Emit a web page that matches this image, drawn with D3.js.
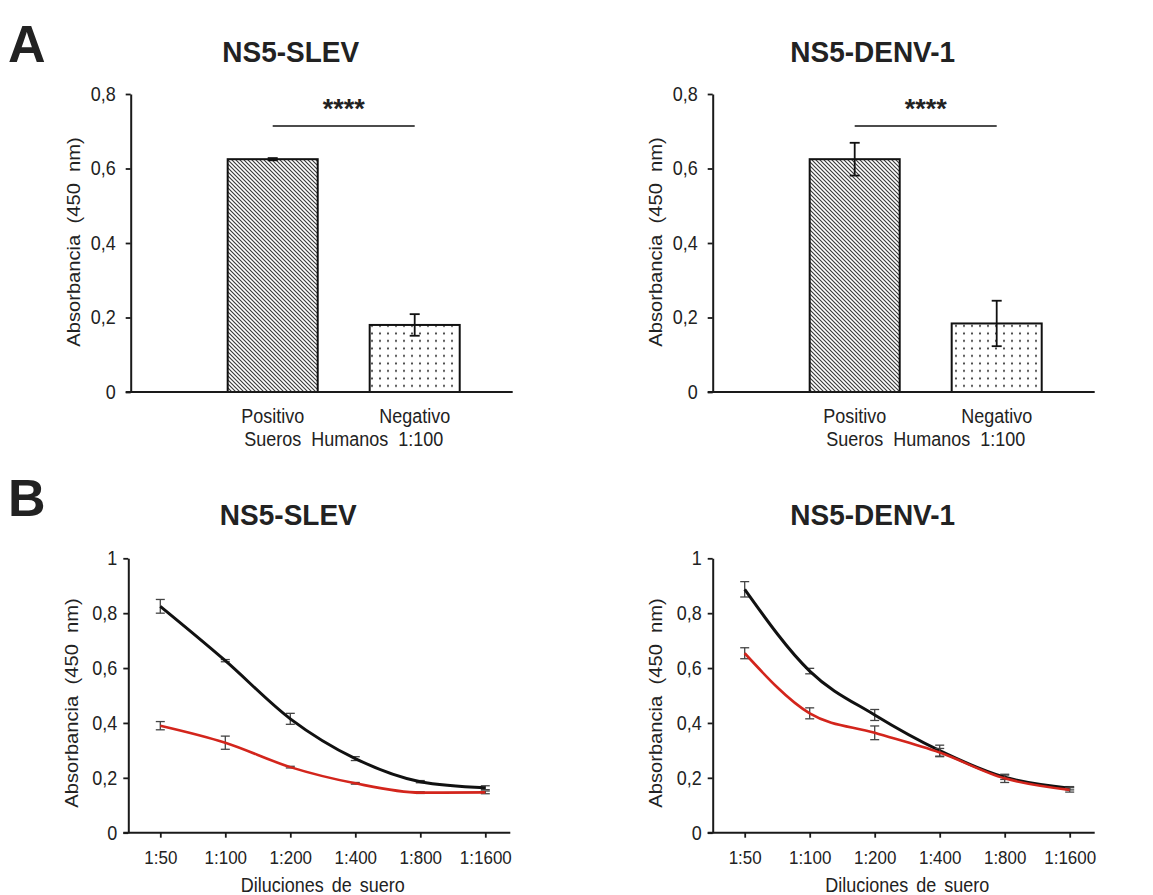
<!DOCTYPE html>
<html>
<head>
<meta charset="utf-8">
<script src="https://cdn.jsdelivr.net/npm/d3@7"></script>
<style>
  body { margin: 0; background: #fff; }
  svg { display: block; font-family: Arial, "Liberation Sans", sans-serif; }
</style>
</head>
<body>
<svg id="chart" width="1153" height="895"></svg>
<script>
// ---- data ----
const barCategories = ["Positivo", "Negativo"];
const slevBarMeans = [0.625, 0.18];
const slevBarErrors = [0.003, 0.029];
const denvBarMeans = [0.625, 0.184];
const denvBarErrors = [0.044, 0.061];
const barTicks = [0, 0.2, 0.4, 0.6, 0.8];
const sigLevel = 0.714;      // height of the significance bracket
const sigStars = "****";

const dilutions = ["1:50", "1:100", "1:200", "1:400", "1:800", "1:1600"];
const lineTicks = [0, 0.2, 0.4, 0.6, 0.8, 1];
const slevPositive = [0.825, 0.627, 0.415, 0.27, 0.186, 0.164];
const slevPositiveErr = [0.025, 0.004, 0.02, 0.007, 0.004, 0.007];
const slevNegative = [0.39, 0.328, 0.239, 0.18, 0.146, 0.147];
const slevNegativeErr = [0.015, 0.024, 0.003, 0.003, 0.003, 0.005];
const denvPositive = [0.887, 0.589, 0.429, 0.299, 0.202, 0.162];
const denvPositiveErr = [0.028, 0.01, 0.02, 0.02, 0.008, 0.006];
const denvNegative = [0.654, 0.435, 0.364, 0.292, 0.198, 0.156];
const denvNegativeErr = [0.02, 0.02, 0.025, 0.015, 0.015, 0.008];

const svg = d3.select("#chart");
const ink = "#1a1a1a";
const textColor = "#222";
const stretch = 1.12;   // the figure text is slightly taller than wide
const fmt = d => String(d).replace(".", ",");

// patterns for the bars
const defs = svg.append("defs");
const hatch = defs.append("pattern").attr("id", "hatch")
    .attr("patternUnits", "userSpaceOnUse").attr("width", 4).attr("height", 4);
hatch.append("rect").attr("width", 4).attr("height", 4).attr("fill", "#fff");
hatch.append("path").attr("d", "M0,0 L4,4 M3,-1 L5,1 M-1,3 L1,5")
    .attr("stroke", "#3a3a3a").attr("stroke-width", 1.15);
const dots = defs.append("pattern").attr("id", "dots")
    .attr("patternUnits", "userSpaceOnUse").attr("width", 8).attr("height", 7.5);
dots.append("rect").attr("width", 8).attr("height", 7.5).attr("fill", "#fff");
dots.append("circle").attr("cx", 4).attr("cy", 3.5).attr("r", 1.05).attr("fill", "#333");

function label(g, x, y, txt, opts = {}) {
    return g.append("text")
        .attr("transform", `translate(${x},${y}) scale(1,${opts.sy || stretch})`)
        .attr("text-anchor", opts.anchor || "middle")
        .attr("font-size", opts.size || 18)
        .attr("font-weight", opts.weight || "normal")
        .attr("word-spacing", opts.ws || 0)
        .attr("fill", textColor)
        .text(txt);
}

function yTitle(g, x, y, txt) {
    g.append("text")
        .attr("transform", `translate(${x},${y}) rotate(-90) scale(${stretch},1)`)
        .attr("text-anchor", "middle")
        .attr("dy", "0.35em")
        .attr("font-size", 18)
        .attr("word-spacing", 5)
        .attr("fill", textColor)
        .text(txt);
}

function styleAxis(sel, size) {
    sel.attr("font-family", null).attr("font-size", null);
    sel.selectAll(".domain").attr("stroke", ink).attr("stroke-width", 2);
    sel.selectAll(".tick line").attr("stroke", ink).attr("stroke-width", 1.8);
    sel.selectAll(".tick text").attr("fill", textColor).attr("font-size", size || 18);
}

// ---- panel A: bar charts ----
function barPanel(x0, title, means, errs) {
    const g = svg.append("g");
    const w = 382;
    const y = d3.scaleLinear().domain([0, 0.8]).range([392, 94]);
    const x = d3.scaleBand().domain(barCategories)
        .range([x0 + 71, x0 + 355]).paddingInner(0.366).paddingOuter(0.183);
    const data = barCategories.map((c, i) => ({c, m: means[i], e: errs[i]}));

    g.selectAll("rect.bar").data(data).join("rect").attr("class", "bar")
        .attr("x", d => x(d.c)).attr("width", x.bandwidth())
        .attr("y", d => y(d.m)).attr("height", d => y(0) - y(d.m))
        .attr("fill", (d, i) => i === 0 ? "url(#hatch)" : "url(#dots)")
        .attr("stroke", "#111").attr("stroke-width", 2);

    // error bars
    const eb = g.selectAll("g.err").data(data).join("g").attr("class", "err")
        .attr("stroke", "#111").attr("stroke-width", 1.8);
    eb.append("line")
        .attr("x1", d => x(d.c) + x.bandwidth() / 2).attr("x2", d => x(d.c) + x.bandwidth() / 2)
        .attr("y1", d => y(d.m + d.e)).attr("y2", d => y(d.m - d.e));
    [1, -1].forEach(s => eb.append("line")
        .attr("x1", d => x(d.c) + x.bandwidth() / 2 - 5).attr("x2", d => x(d.c) + x.bandwidth() / 2 + 5)
        .attr("y1", d => y(d.m + s * d.e)).attr("y2", d => y(d.m + s * d.e)));

    // axes
    g.append("g").attr("transform", `translate(${x0},0)`)
        .call(d3.axisLeft(y).tickValues(barTicks).tickFormat(fmt)
            .tickSize(5).tickSizeOuter(0).tickPadding(10))
        .call(styleAxis)
        .selectAll(".tick text").attr("transform", `scale(1,${stretch})`);
    g.append("line").attr("x1", x0 - 5).attr("x2", x0 + w)
        .attr("y1", y(0)).attr("y2", y(0))
        .attr("stroke", ink).attr("stroke-width", 2);
    const xa = g.append("g").attr("transform", `translate(0,${y(0)})`)
        .call(d3.axisBottom(x).tickSize(0).tickPadding(15))
        .call(styleAxis);
    xa.select(".domain").remove();
    xa.selectAll(".tick text").attr("transform", `scale(1,${stretch})`);

    // significance bracket
    const c1 = x(barCategories[0]) + x.bandwidth() / 2;
    const c2 = x(barCategories[1]) + x.bandwidth() / 2;
    g.append("line").attr("x1", c1).attr("x2", c2)
        .attr("y1", y(sigLevel)).attr("y2", y(sigLevel))
        .attr("stroke", "#111").attr("stroke-width", 1.4);
    label(g, (c1 + c2) / 2, y(sigLevel) - 8, sigStars, {size: 27, weight: "bold", sy: 1});

    label(g, (c1 + c2) / 2, 446, "Sueros Humanos 1:100", {ws: 5});
    yTitle(g, x0 - 57, 242, "Absorbancia (450 nm)");
    label(g, x0 + 160, 62, title, {size: 28, weight: "bold", sy: 1.08});
}

// ---- panel B: dilution curves ----
function linePanel(x0, title, series) {
    const g = svg.append("g");
    const w = 382;
    const y = d3.scaleLinear().domain([0, 1]).range([832.7, 558.3]);
    const x = d3.scalePoint().domain(dilutions).range([x0 + 32, x0 + 357]);
    const line = d3.line().x((d, i) => x(dilutions[i])).y(d => y(d)).curve(d3.curveMonotoneX);

    series.forEach(s => {
        const pts = dilutions.map((k, i) => ({k, m: s.values[i], e: s.errors[i]}));
        const eb = g.append("g").attr("stroke", "#444").attr("stroke-width", 1.3);
        eb.selectAll("line.v").data(pts).join("line").attr("class", "v")
            .attr("x1", d => x(d.k)).attr("x2", d => x(d.k))
            .attr("y1", d => y(d.m + d.e)).attr("y2", d => y(d.m - d.e));
        [1, -1].forEach(sg => eb.selectAll("line.c" + sg).data(pts).join("line").attr("class", "c" + sg)
            .attr("x1", d => x(d.k) - 4.5).attr("x2", d => x(d.k) + 4.5)
            .attr("y1", d => y(d.m + sg * d.e)).attr("y2", d => y(d.m + sg * d.e)));
        g.append("path").datum(s.values)
            .attr("fill", "none").attr("stroke", s.color).attr("stroke-width", s.width)
            .attr("stroke-linejoin", "round").attr("d", line);
    });

    g.append("g").attr("transform", `translate(${x0},0)`)
        .call(d3.axisLeft(y).tickValues(lineTicks).tickFormat(fmt)
            .tickSize(5).tickSizeOuter(0).tickPadding(6))
        .call(styleAxis)
        .selectAll(".tick text").attr("transform", `scale(1,${stretch})`);
    g.append("line").attr("x1", x0 - 5).attr("x2", x0 + w)
        .attr("y1", y(0)).attr("y2", y(0))
        .attr("stroke", ink).attr("stroke-width", 2);
    const xa = g.append("g").attr("transform", `translate(0,${y(0)})`)
        .call(d3.axisBottom(x).tickSize(5).tickSizeOuter(0).tickPadding(11))
        .call(s => styleAxis(s, 17));
    xa.select(".domain").remove();
    xa.selectAll(".tick text").attr("transform", `scale(1,${stretch})`);

    const mid = (x(dilutions[0]) + x(dilutions[dilutions.length - 1])) / 2;
    label(g, mid, 892, "Diluciones de suero", {ws: 3});
    yTitle(g, x0 - 57, 703, "Absorbancia (450 nm)");
    label(g, x0 + 160, 525, title, {size: 28, weight: "bold", sy: 1.08});
}

barPanel(130.7, "NS5-SLEV", slevBarMeans, slevBarErrors);
barPanel(712.7, "NS5-DENV-1", denvBarMeans, denvBarErrors);

linePanel(128.3, "NS5-SLEV", [
    {values: slevPositive, errors: slevPositiveErr, color: "#111", width: 3},
    {values: slevNegative, errors: slevNegativeErr, color: "#d3251c", width: 2.6}
]);
linePanel(712.7, "NS5-DENV-1", [
    {values: denvPositive, errors: denvPositiveErr, color: "#111", width: 3},
    {values: denvNegative, errors: denvNegativeErr, color: "#d3251c", width: 2.6}
]);

// panel letters
label(svg, 8, 62, "A", {size: 52, weight: "bold", anchor: "start", sy: 1});
label(svg, 8, 516, "B", {size: 52, weight: "bold", anchor: "start", sy: 1});
</script>
</body>
</html>
